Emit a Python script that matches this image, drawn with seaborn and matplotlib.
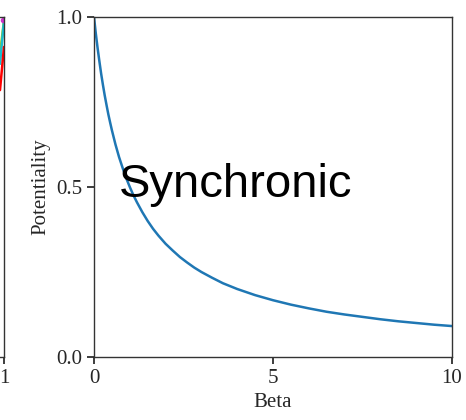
import matplotlib
matplotlib.use("Agg")
import matplotlib.pyplot as plt
import seaborn as sns
import pandas as pd

# Potentiality of the synchronic regime as beta grows
beta = [0, 0.05, 0.1, 0.15, 0.2, 0.25, 0.3, 0.35, 0.4, 0.45, 0.5, 0.6, 0.7, 0.8, 0.9,
        1.0, 1.1, 1.2, 1.35, 1.5, 1.65, 1.8, 2.0, 2.2, 2.4, 2.6, 2.8, 3.0, 3.3, 3.6,
        4.0, 4.5, 5.0, 5.5, 6.0, 6.5, 7.0, 7.5, 8.0, 8.5, 9.0, 9.5, 10.0]
potentiality = [1.0, 0.952, 0.909, 0.870, 0.833, 0.800, 0.769, 0.741, 0.714, 0.690,
                0.667, 0.625, 0.588, 0.556, 0.526, 0.5, 0.476, 0.455, 0.426, 0.4,
                0.377, 0.357, 0.333, 0.313, 0.294, 0.278, 0.263, 0.25, 0.233, 0.217,
                0.2, 0.182, 0.167, 0.154, 0.143, 0.133, 0.125, 0.118, 0.111, 0.105,
                0.1, 0.095, 0.091]

# Tail end of the neighbouring panel's curves
side_x = [0.933, 1.0]
side_red = [0.785, 0.912]
side_cyan = [0.862, 0.99]
side_yellow = [0.891, 0.99]
side_dot = ([0.98], [0.99])

x_ticks = [0, 5, 10]
y_ticks = [0.0, 0.5, 1.0]

sns.set_theme(style="ticks")
plt.rcParams["font.family"] = ["Liberation Serif", "DejaVu Serif"]
plt.rcParams["axes.edgecolor"] = "#333333"
plt.rcParams["axes.linewidth"] = 1.0

W, H = 466, 420
fig = plt.figure(figsize=(W / 100, H / 100), dpi=100)

# neighbouring panel, mostly outside the canvas
ax0 = fig.add_axes([(4 - 60) / W, (H - 357) / H, 60 / W, 340 / H])
ax0.plot(side_x, side_yellow, color="#b5c800", lw=1.8)
ax0.plot(side_x, side_cyan, color="#17becf", lw=1.8)
ax0.plot(side_x, side_red, color="red", lw=1.8)
ax0.plot(*side_dot, "o", color="#cc33cc", ms=3)
ax0.set_xlim(0, 1)
ax0.set_ylim(0, 1)
ax0.set_xticks([1])
ax0.set_xticklabels(["1"])
ax0.set_yticks([])
ax0.tick_params(labelsize=15, length=5)

# main panel
ax = fig.add_axes([94 / W, (H - 357) / H, 358 / W, 340 / H])
df = pd.DataFrame({"Beta": beta, "Potentiality": potentiality})
sns.lineplot(data=df, x="Beta", y="Potentiality", ax=ax, color="#1f77b4", lw=1.8)
ax.set_xlim(0, 10)
ax.set_ylim(0, 1)
ax.set_xticks(x_ticks)
ax.set_xticklabels([str(t) for t in x_ticks])
ax.set_yticks(y_ticks)
ax.set_yticklabels([f"{t:.1f}" for t in y_ticks])
ax.tick_params(labelsize=15, length=5)
ax.set_xlabel("Beta", fontsize=15)
ax.set_ylabel("Potentiality", fontsize=15)
ax.text(0.7, 0.471, "Synchronic", fontsize=34, family="Liberation Sans",
        ha="left", va="baseline", color="black")

fig.savefig("out.png", dpi=100)
